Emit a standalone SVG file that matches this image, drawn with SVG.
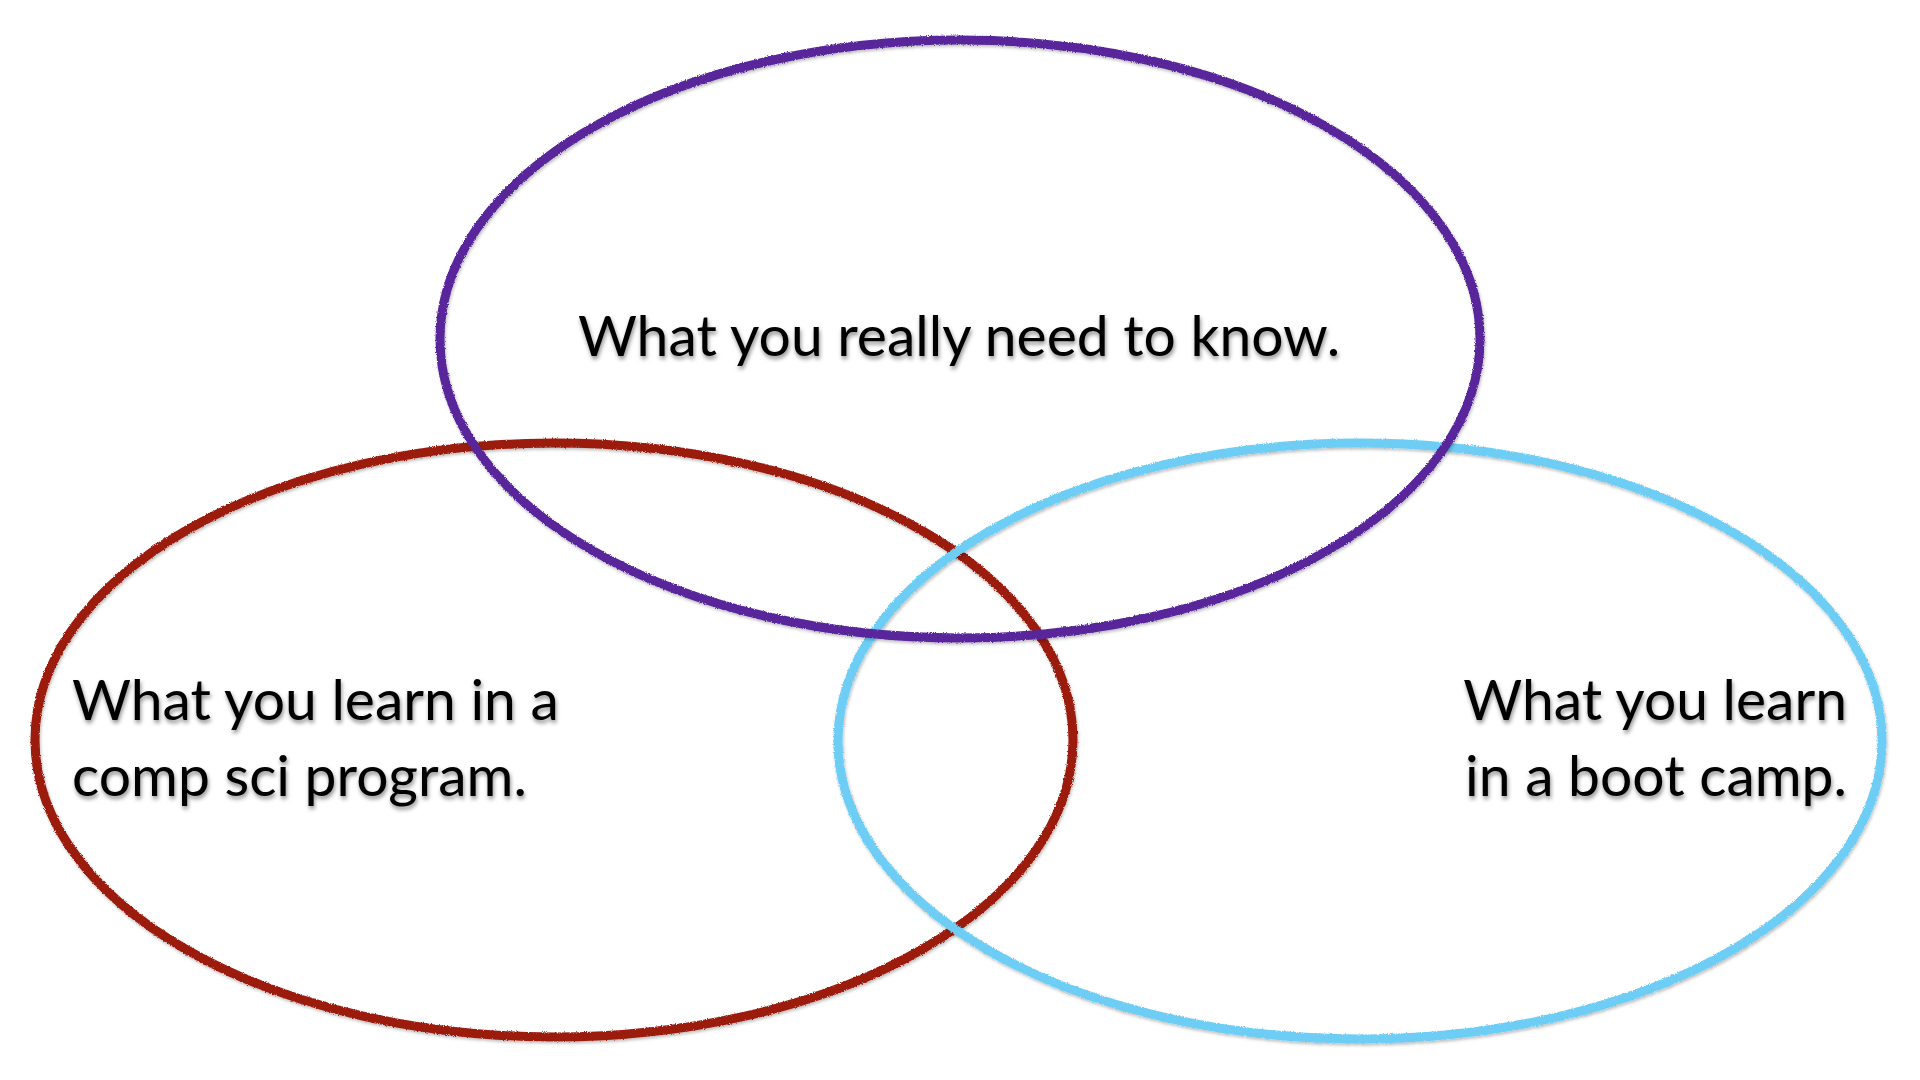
<svg xmlns="http://www.w3.org/2000/svg" width="1920" height="1080" viewBox="0 0 1920 1080">
  <defs>
    <filter id="chalk" x="-5%" y="-5%" width="110%" height="110%">
      <feTurbulence type="fractalNoise" baseFrequency="0.9" numOctaves="2" seed="3" result="noise"/>
      <feDisplacementMap in="SourceGraphic" in2="noise" scale="3" xChannelSelector="R" yChannelSelector="G" result="disp"/>
      <feDropShadow dx="1" dy="2" stdDeviation="1.5" flood-color="#000" flood-opacity="0.25"/>
    </filter>
    <filter id="shadow" x="-5%" y="-20%" width="110%" height="140%">
      <feDropShadow dx="1" dy="3" stdDeviation="2" flood-color="#000" flood-opacity="0.45"/>
    </filter>
  </defs>
  <style>
    .ring { fill: none; stroke-width: 9; }
    .label { font-family: Lato, "Open Sans", "Liberation Sans", sans-serif; font-size: 57px; fill: #000; }
  </style>
  <rect width="1920" height="1080" fill="#ffffff"/>
  <g id="cs-program">
    <ellipse class="ring" cx="554" cy="740" rx="519" ry="297" stroke="#9b1a0c" filter="url(#chalk)"/>
    <text class="label" filter="url(#shadow)"><tspan x="72" y="720">What you learn in a</tspan><tspan x="72" y="796">comp sci program.</tspan></text>
  </g>
  <g id="boot-camp">
    <ellipse class="ring" cx="1360" cy="741" rx="522" ry="298" stroke="#6dcdf4" filter="url(#chalk)"/>
    <text class="label" text-anchor="end" filter="url(#shadow)"><tspan x="1847" y="720">What you learn</tspan><tspan x="1847" y="796">in a boot camp.</tspan></text>
  </g>
  <g id="need-to-know">
    <ellipse class="ring" cx="960" cy="339" rx="520" ry="299" stroke="#58279a" filter="url(#chalk)"/>
    <text class="label" x="959" y="356" text-anchor="middle" filter="url(#shadow)">What you really need to know.</text>
  </g>
  <g id="connectors"/>
</svg>
